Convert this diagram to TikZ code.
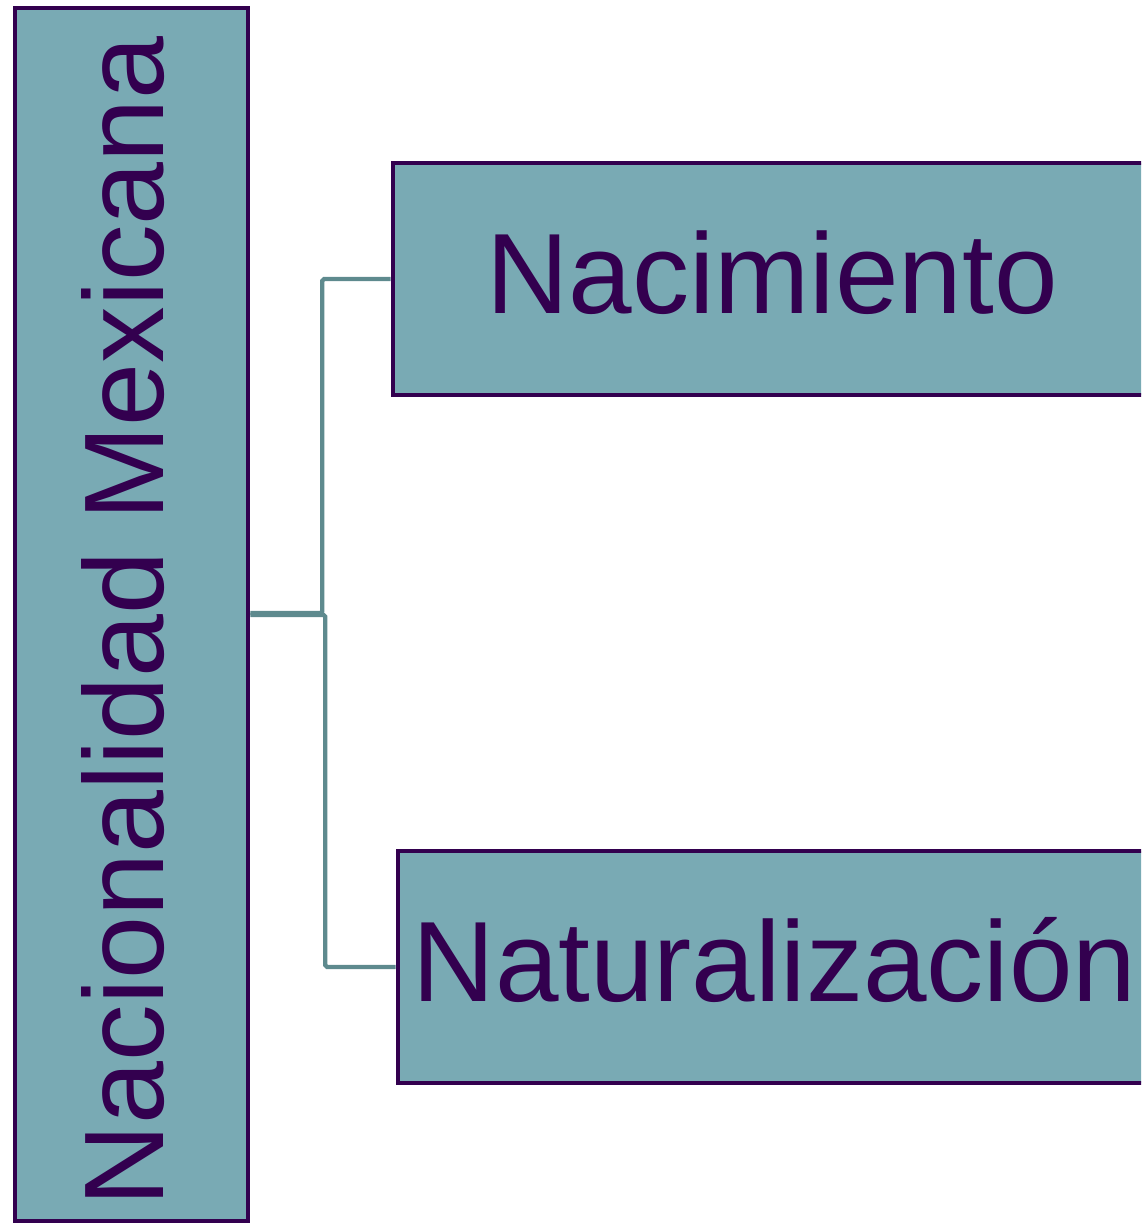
\documentclass[tikz,border=0pt]{standalone}
\usepackage{fontspec}
\setmainfont{Liberation Sans}
\usepackage{xcolor}
\usetikzlibrary{positioning}
\definecolor{boxfill}{HTML}{79AAB4}
\definecolor{boxline}{HTML}{33004F}
\definecolor{linkline}{HTML}{5E8A8E}
\newcommand*{\lifted}[2]{\raisebox{#1}[\height][\depth]{#2}}
\tikzset{
  tema/.style={draw=boxline, fill=boxfill, line width=2.6pt,
    text=boxline, font=\fontsize{65}{72}\selectfont, inner sep=0pt},
  enlace/.style={draw=linkline, line width=2.4pt, rounded corners=1pt}
}

\begin{document}
\begin{tikzpicture}
\clip (0,0) rectangle (22.82,24.46);

% Nacionalidad (vertical)
\node[tema,
    font=\fontsize{64.4}{72}\selectfont,
    rotate=90,
    minimum width=24.26cm,
    minimum height=4.66cm
] (nacionalidad) at (2.63,12.17) {\lifted{0.16cm}{Nacionalidad Mexicana}\hspace*{0.26cm}};

% Nacimiento
\node[tema,
    minimum width=15.16cm,
    minimum height=4.64cm
] (nacimiento) at (15.44,18.88) {\lifted{0.12cm}{Nacimiento}};

% Naturalizacion
\node[tema,
    minimum width=15.06cm,
    minimum height=4.64cm
] (naturalizacion) at (15.49,5.12) {\lifted{0.14cm}{Naturalización}};

% connectors
\draw[enlace] (nacionalidad.south) ++(0,0.03) -- ++(1.44,0) |- (nacimiento.west);
\draw[enlace] (nacionalidad.south) ++(0,-0.01) -- ++(1.5,0) |- (naturalizacion.west);

\end{tikzpicture}
\end{document}
